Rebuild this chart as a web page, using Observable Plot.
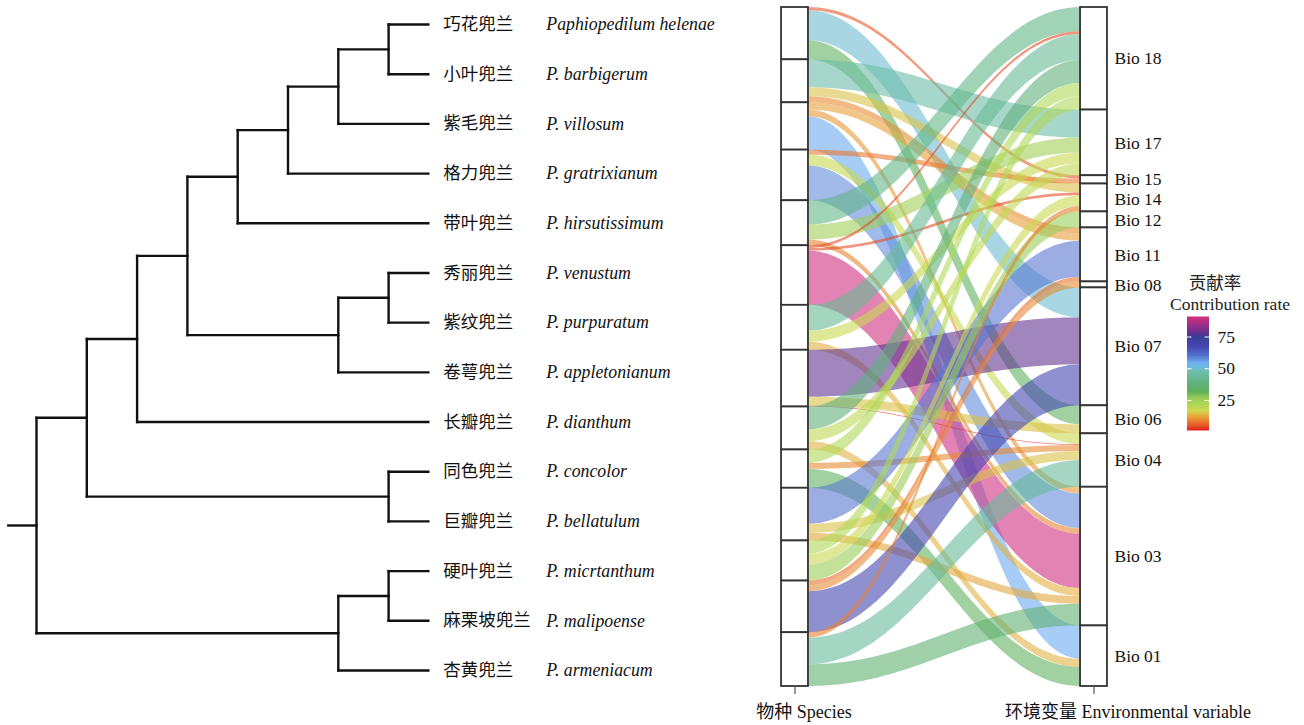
<!DOCTYPE html>
<html><head><meta charset="utf-8">
<script src="https://cdn.jsdelivr.net/npm/d3@7"></script>
<script src="https://cdn.jsdelivr.net/npm/@observablehq/plot@0.6"></script>
<style>
body{margin:0;background:#fff;}
#wrap{position:relative;width:1304px;height:725px;overflow:hidden;font-family:"Liberation Serif","Noto Sans CJK SC",serif;}
#wrap .layer{position:absolute;left:0;top:0;}
.lg{position:absolute;font-family:"Liberation Serif","Noto Sans CJK SC",serif;font-size:17.5px;color:#222;white-space:nowrap;transform:translate(-50%,-50%);line-height:1;}
</style></head><body><div id="wrap"></div>
<script>
// ---------- data ----------
const speciesCN = ["巧花兜兰","小叶兜兰","紫毛兜兰","格力兜兰","带叶兜兰","秀丽兜兰","紫纹兜兰","卷萼兜兰","长瓣兜兰","同色兜兰","巨瓣兜兰","硬叶兜兰","麻栗坡兜兰","杏黄兜兰"];
const speciesLatin = ["Paphiopedilum helenae","P. barbigerum","P. villosum","P. gratrixianum","P. hirsutissimum","P. venustum","P. purpuratum","P. appletonianum","P. dianthum","P. concolor","P. bellatulum","P. micrtanthum","P. malipoense","P. armeniacum"];
// tree topology over leaf indices (cladogram)
const treeTopology = [[[[[[[[0,1],2],3],4],[[5,6],7]],8],[9,10]],[[11,12],13]];
const variables = ["Bio 18","Bio 17","Bio 15","Bio 14","Bio 12","Bio 11","Bio 08","Bio 07","Bio 06","Bio 04","Bio 03","Bio 01"];
const flowSpecies = [
 "巧花兜兰","巧花兜兰","巧花兜兰",
 "小叶兜兰","小叶兜兰","小叶兜兰",
 "紫毛兜兰","紫毛兜兰","紫毛兜兰",
 "格力兜兰","格力兜兰","格力兜兰",
 "带叶兜兰","带叶兜兰","带叶兜兰",
 "秀丽兜兰","秀丽兜兰","秀丽兜兰",
 "紫纹兜兰","紫纹兜兰","紫纹兜兰",
 "卷萼兜兰","卷萼兜兰","卷萼兜兰",
 "长瓣兜兰","长瓣兜兰","长瓣兜兰",
 "同色兜兰","同色兜兰","同色兜兰",
 "巨瓣兜兰","巨瓣兜兰","巨瓣兜兰",
 "硬叶兜兰","硬叶兜兰","硬叶兜兰",
 "麻栗坡兜兰","麻栗坡兜兰","麻栗坡兜兰",
 "杏黄兜兰","杏黄兜兰","杏黄兜兰"];
const flowVariable = [
 "Bio 15","Bio 07","Bio 06",
 "Bio 17","Bio 14","Bio 11",
 "Bio 11","Bio 03","Bio 01",
 "Bio 15","Bio 04","Bio 03",
 "Bio 18","Bio 17","Bio 03",
 "Bio 18","Bio 14","Bio 03",
 "Bio 18","Bio 17","Bio 03",
 "Bio 07","Bio 06","Bio 04",
 "Bio 18","Bio 17","Bio 01",
 "Bio 18","Bio 04","Bio 01",
 "Bio 11","Bio 04","Bio 03",
 "Bio 18","Bio 14","Bio 12",
 "Bio 11","Bio 08","Bio 07",
 "Bio 14","Bio 04","Bio 03"];
const flowRate = [
 5.5, 50.0, 31.7,
 46.7, 15.0, 10.0,
 12.2, 11.2, 55.5,
 8.3, 18.3, 57.8,
 40.5, 25.0, 9.5,
 4.5, 4.5, 90.4,
 43.3, 18.3, 13.3,
 78.3, 15.0, 1.3,
 38.3, 19.5, 13.8,
 22.2, 10.0, 31.7,
 60.0, 15.0, 12.8,
 22.2, 18.0, 26.7,
 7.8, 10.0, 68.3,
 9.0, 44.5, 36.2];
const legendTicks = [25, 50, 75];
const axisLabels = ["物种 Species", "环境变量 Environmental variable"];
// colour ramp stops (value -> colour)
const rampValues = [1.3, 6, 12, 17, 22, 27, 32, 38, 44, 48, 51, 55, 58, 61, 68, 75, 79, 85, 90.4];
const rampColors = ["#e02020","#e8602a","#e8a03a","#d0d850","#b0d858","#98cc58","#60b060","#60b07a","#68bb98","#6ebeb0","#6ebade","#6eb1f3","#6189d9","#536ecb","#4646b1","#3a3f98","#6a3090","#a03088","#d03080"];

// ---------- shared ----------
const FONT = '"Liberation Serif","Noto Sans CJK SC",serif';
const W = 1304, H = 725;
const ramp = d3.scaleLinear().domain(rampValues).range(rampColors).interpolate(d3.interpolateRgb).clamp(true);
const vExt = d3.extent(flowRate);
const colorOpts = {type: "linear", domain: vExt, interpolate: t => ramp(vExt[0] + t * (vExt[1] - vExt[0]))};
const wrap = document.getElementById("wrap");
function addLayer(node){ node.classList.add("layer"); node.style.position="absolute"; node.style.left="0"; node.style.top="0"; wrap.appendChild(node); }
const baseStyle = {fontFamily: FONT, fontSize: "17.5px", background: "transparent", overflow: "visible", color: "#111"};

// ---------- tree ----------
const root = d3.hierarchy(treeTopology, d => Array.isArray(d) ? d : null);
const rootHeight = root.height;
const tipLevel = rootHeight - 0.21;
const rootEdge = 0.56;
root.eachAfter(n => {
  if (!n.children) { n.yy = n.data; n.lx = tipLevel; }
  else { n.yy = d3.mean(n.children, c => c.yy); n.lx = rootHeight - n.height; }
});
const segs = [];
root.each(n => {
  if (n.parent) segs.push({x1: n.parent.lx, x2: n.lx, y1: n.yy, y2: n.yy});
  if (n.children) segs.push({x1: n.lx, x2: n.lx, y1: d3.min(n.children, c => c.yy), y2: d3.max(n.children, c => c.yy)});
});
segs.push({x1: -rootEdge, x2: 0, y1: root.yy, y2: root.yy});
const leaves = root.leaves().map(l => ({i: l.data, x: l.lx, cn: speciesCN[l.data], la: speciesLatin[l.data]}));

addLayer(Plot.plot({
  width: W, height: H, style: baseStyle,
  x: {domain: [0, rootHeight], range: [36, 438.4], axis: null},
  y: {domain: [0, speciesCN.length - 1], range: [24, 670], axis: null},
  marks: [
    Plot.link(segs, {x1: "x1", y1: "y1", x2: "x2", y2: "y2", stroke: "#111", strokeWidth: 2.4, strokeLinecap: "square"}),
    Plot.text(leaves, {x: "x", y: "i", text: "cn", dx: 15, textAnchor: "start", fontSize: 17.5, fontFamily: FONT, fill: "#111"}),
    Plot.text(leaves, {x: "x", y: "i", text: "la", dx: 118, textAnchor: "start", fontSize: 17.8, fontFamily: FONT, fontStyle: "italic", fill: "#111"})
  ]
}));

// ---------- alluvial ----------
const flows = flowRate.map((r, k) => ({id: k, sp: flowSpecies[k], si: speciesCN.indexOf(flowSpecies[k]), va: flowVariable[k], vi: variables.indexOf(flowVariable[k]), rate: r}));
const total = d3.sum(flows, d => d.rate);
let acc = 0;
const leftStrata = [];
speciesCN.forEach((s, si) => {
  const start = acc;
  flows.filter(f => f.si === si).sort((a, b) => a.vi - b.vi).forEach(f => { f.l0 = acc; acc += f.rate; f.l1 = acc; });
  leftStrata.push({name: s, y1: start, y2: acc, xc: 1});
});
acc = 0;
const rightStrata = [];
variables.forEach((v, vi) => {
  const start = acc;
  flows.filter(f => f.vi === vi).sort((a, b) => a.si - b.si).forEach(f => { f.r0 = acc; acc += f.rate; f.r1 = acc; });
  rightStrata.push({name: v, y1: start, y2: acc, mid: (start + acc) / 2, xc: 2});
});
// simple label repulsion (pixel space) so neighbouring stratum labels keep a minimum gap
const yRange = [7, 686];
const yPix = v => yRange[0] + (yRange[1] - yRange[0]) * v / total;
const lp = rightStrata.map(d => yPix(d.mid));
for (let it = 0; it < 50; it++) {
  for (let i = 0; i < lp.length - 1; i++) {
    const gap = lp[i + 1] - lp[i];
    if (gap < 20) { const s = (20 - gap) / 2; lp[i] -= s; lp[i + 1] += s; }
  }
}
rightStrata.forEach((d, i) => { d.ldy = lp[i] - yPix(d.mid); });

const bw = 0.09, kp = 0.4, N = 60;
const xa = 1 + bw / 2, xb = 2 - bw / 2;
const pts = [];
flows.forEach(f => {
  for (let j = 0; j <= N; j++) {
    const t = j / N, u = 1 - t;
    const bx = 3 * u * u * t * kp + 3 * u * t * t * (1 - kp) + t * t * t;
    const by = 3 * u * t * t + t * t * t;
    pts.push({id: f.id, rate: f.rate, x: xa + (xb - xa) * bx, top: f.l0 + (f.r0 - f.l0) * by, bot: f.l1 + (f.r1 - f.l1) * by});
  }
});
const boxes = leftStrata.concat(rightStrata);

const labelMarks = rightStrata.map(d => Plot.text([d], {x: dd => dd.xc + bw / 2, y: "mid", text: "name", dx: 7, dy: d.ldy, textAnchor: "start", fontSize: 17.5, fontFamily: FONT, fill: "#111"}));

addLayer(Plot.plot({
  width: W, height: H, style: baseStyle,
  x: {domain: [1, 2], range: [794.5, 1093.5], axis: null},
  y: {domain: [0, total], range: yRange, axis: null},
  color: colorOpts,
  marks: [
    Plot.areaY(pts, {x: "x", y1: "top", y2: "bot", z: "id", fill: "rate", fillOpacity: 0.6}),
    Plot.rect(boxes, {x1: d => d.xc - bw / 2, x2: d => d.xc + bw / 2, y1: "y1", y2: "y2", fill: "white", stroke: "#333", strokeWidth: 1.8}),
    ...labelMarks,
    Plot.ruleX([1, 2], {x: d => d, y1: () => total, y2: () => total, insetBottom: -8, stroke: "#555", strokeWidth: 1.2}),
    Plot.text([axisLabels[0]], {x: 1, y: () => total, text: d => d, dy: 26, dx: 9, fontSize: 18, fontFamily: FONT, fill: "#111", textAnchor: "middle"}),
    Plot.text([axisLabels[1]], {x: 2, y: () => total, text: d => d, dy: 26, dx: 34, fontSize: 18, fontFamily: FONT, fill: "#111", textAnchor: "middle"})
  ]
}));

// ---------- legend ----------
const nCells = 150;
const cells = d3.range(0, nCells).map(i => {
  const a = vExt[0] + (vExt[1] - vExt[0]) * i / nCells, b = vExt[0] + (vExt[1] - vExt[0]) * (i + 1) / nCells;
  return {a, b, m: (a + b) / 2, l: 1, r: 2};
});
const tickRows = legendTicks.map(v => ({v, l: 1, lr: 1.2, rl: 1.8, r: 2}));
addLayer(Plot.plot({
  width: W, height: H, style: baseStyle,
  x: {domain: [1, 2], range: [1187, 1209], axis: null},
  y: {domain: vExt, range: [430, 317], axis: null},
  color: colorOpts,
  marks: [
    Plot.rect(cells, {x1: "l", x2: "r", y1: "a", y2: "b", fill: "m", insetTop: -0.5, insetBottom: -0.5}),
    Plot.ruleY(tickRows, {y: "v", x1: "l", x2: "lr", stroke: "white", strokeWidth: 1}),
    Plot.ruleY(tickRows, {y: "v", x1: "rl", x2: "r", stroke: "white", strokeWidth: 1}),
    Plot.text(tickRows, {x: "r", y: "v", text: d => String(d.v), dx: 8, textAnchor: "start", fontSize: 17.5, fontFamily: FONT, fill: "#111"})
  ]
}));
const t1 = document.createElement("div"); t1.className = "lg"; t1.textContent = "贡献率"; t1.style.left = "1215px"; t1.style.top = "284px"; wrap.appendChild(t1);
const t2 = document.createElement("div"); t2.className = "lg"; t2.textContent = "Contribution rate"; t2.style.left = "1230px"; t2.style.top = "305px"; wrap.appendChild(t2);
</script></body></html>
